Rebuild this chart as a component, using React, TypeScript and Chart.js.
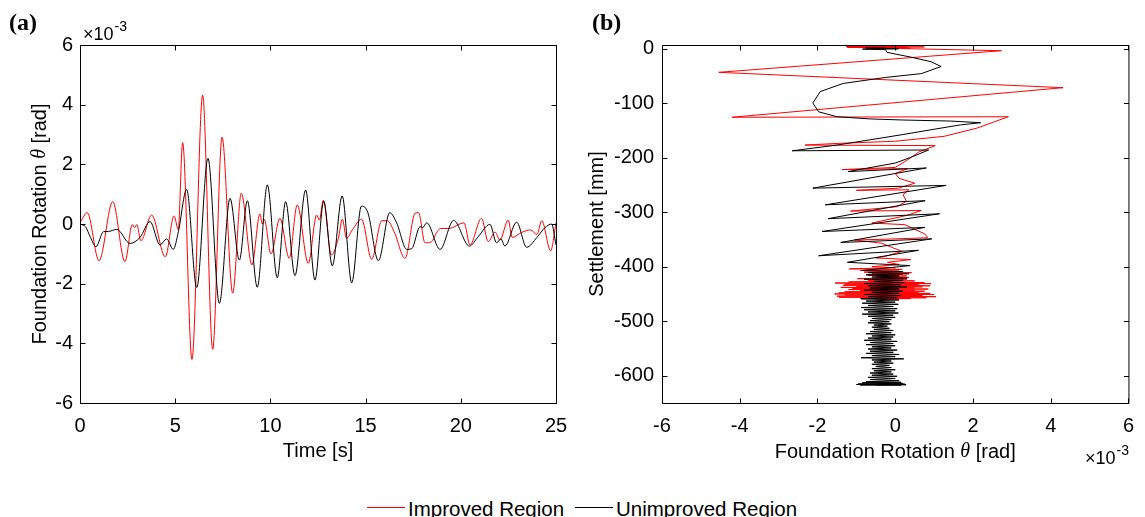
import React, { useEffect, useRef } from 'react';
import { Chart, registerables } from 'chart.js';

Chart.register(...registerables);

const FONT = "'Liberation Sans', Arial, Helvetica, sans-serif";
const SERIF = "'Liberation Serif', 'Times New Roman', serif";

// ---------- Panel (a): rotation time history (values in 1e-3 rad) ----------
const timeTicks = [0, 5, 10, 15, 20, 25];
const rotTicks = [-6, -4, -2, 0, 2, 4, 6];

const impTime = [0, 0.38, 1.0, 1.72, 2.36, 2.75, 2.87, 2.98, 3.2, 3.76, 4.48, 4.94, 5.16, 5.39, 5.88, 6.44, 6.97, 7.46, 8.02, 8.47, 9.03, 9.45, 9.58, 9.68, 10.03, 10.5, 10.99, 11.41, 11.99, 12.43, 12.57, 12.78, 13.2, 13.57, 13.78, 14.0, 14.3, 14.79, 15.32, 15.85, 16.14, 16.5, 17.07, 17.6, 17.78, 18.12, 18.45, 18.76, 18.94, 19.38, 20.17, 20.48, 21.09, 21.44, 21.8, 22.05, 22.49, 22.7, 23.2, 23.66, 24.0, 24.25, 24.72, 25.0];
const impRot = [0.05, 0.38, -1.23, 0.75, -1.26, -0.02, -0.12, -0.02, -0.56, 0.3, -1.1, 0.27, -0.18, 2.73, -4.54, 4.32, -4.2, 2.91, -2.32, 1.03, -1.37, 0.34, 0.0, 0.15, -1.0, 0.19, -1.15, 0.64, -1.32, 0.3, 0.13, 0.8, -1.04, -0.48, 0.16, -0.48, -0.2, 0.16, -1.18, 0.11, 0.11, -0.26, -1.15, 0.36, 0.38, -0.63, -0.6, -0.26, -0.15, -0.15, 0.04, -0.7, 0.19, -0.59, -0.27, -0.54, 0.13, -0.45, -0.28, -0.2, -0.35, 0.11, -0.9, 0.04];

const unimpTime = [0, 0.3, 0.55, 0.84, 1.23, 1.5, 1.93, 2.63, 3.15, 3.68, 4.2, 4.55, 4.9, 5.17, 5.6, 6.13, 6.72, 7.32, 7.88, 8.37, 8.79, 9.31, 9.84, 10.36, 10.8, 11.29, 11.85, 12.34, 12.8, 13.25, 13.77, 14.27, 14.78, 15.12, 15.67, 16.27, 16.63, 17.16, 17.42, 17.86, 18.0, 18.21, 18.91, 19.62, 20.45, 20.92, 21.53, 21.88, 22.1, 22.32, 22.93, 23.46, 24.0, 24.33, 24.5, 24.77, 25.0];
const unimpRot = [0.0, -0.1, -0.45, -0.76, -0.26, -0.25, -0.18, -0.65, -0.45, 0.08, -0.7, -0.5, -0.85, -0.25, 1.16, -2.13, 2.2, -2.66, 0.86, -1.21, 0.78, -2.12, 1.31, -1.8, 0.75, -1.73, 1.14, -1.88, 0.76, -1.4, 0.94, -1.97, 0.6, 0.38, -1.23, 0.38, 0.04, -0.85, -0.83, -0.09, -0.12, 0.04, -0.85, 0.12, -0.74, -0.42, -0.01, -0.63, -0.5, -0.74, 0.06, -0.78, -0.45, -0.18, -0.08, 0.0, -0.7];

// ---------- Panel (b): settlement vs rotation ----------
const rotTicksB = [-6, -4, -2, 0, 2, 4, 6];
const settleTicks = [-600, -500, -400, -300, -200, -100, 0];

const impPathRot = [0, 0.38, -1.23, 0.75, -1.26, -0.02, -0.56, 0.3, -1.1, 0.27, -0.18, 2.73, -4.54, 4.32, -4.2, 2.91, 2.1, 1.26, 0, -1.5, -2.32, 1.03, 0.6, 0.3, 0.0, -1.37, 0.33, 0.0, 0.1, 0.5, 0.08, -1.0, 0.35, 0.2, 0.29, 0.05, -1.15, 0.67, 0.3, -0.34, -0.6, 0.25, 0.76, 0.84, -0.42, -1.05, -0.35, 0.17, -0.25, -0.5,
  0.4, -0.2, 0.1, -0.6, 0.0, -1.18, 0.18, -0.9, 0.1, -0.8, 0.42, -0.6, 0.2, -0.7, 0.3, -0.5, 0.35, -0.97, 0.3, -0.7, 0.5, -1.2, 0.75, -1.55, 0.92, -1.3, 0.6, -1.34, 0.9, -1.0, 0.7, -1.4, 0.5, -1.1, 0.85, -1.2, 0.5, -0.9, 0.76, -1.3, 0.6, -1.45, 0.9, -1.56, 1.0, -1.3, 0.7, -1.5, 1.05, -1.45, 0.8, -0.9, 0.4, -0.5];
const impPathSettle = [0, 1, 2, 3, 3.5, 3, 2.5, 3, 2, 1.5, 0.5, -4, -43.6, -71.8, -126, -125, -146, -161, -170, -174, -177, -178, -190, -205, -218, -222, -220, -229, -238, -247, -256, -260, -259, -268, -280, -290, -298, -297, -306, -316, -320, -323, -340, -347, -350, -351, -357, -372, -381, -384,
  -387, -392, -396, -400, -402, -404, -405, -407, -408, -410, -411, -413, -414, -416, -417, -419, -420, -422, -423, -425, -426, -428, -429, -430, -431, -432, -433, -434, -435, -436, -437, -438, -439, -440, -441, -442, -443, -444, -445, -446, -447, -448, -449, -450, -451, -452, -453, -454, -455, -456, -457, -458, -458.5, -459];

const unimpPathRot = [0, -0.3, -0.76, -0.26, -0.65, 0.08, -0.84, -0.25, -0.21, 0.42, 0.92, 1.18, 0.67, -0.25, -1.34, -1.93, -2.12, -1.97, -1.5, -0.67, 0.17, 1.43, 2.2, 1.68, 1.0, 0.17, -0.67, -1.5, -2.65, 0.86, 0.42, 0, -1.21, 0.8, -2.12, 1.31, -1.8, 0.77, -1.73, 1.14, -1.88, 0.76, -1.4, 0.94, -1.97, 0.6, -1.23, 0.38,
  -0.85, 0.2, -0.7, 0.35, -0.75, 0.1, -0.6, 0.3, -0.8, 0.2, -0.55, 0.25, -0.8, 0.15, -0.7, 0.3, -0.65, 0.1, -0.8, 0.2, -0.6, 0.1, -0.8, 0.15, -0.7, 0.05,
  -0.88, 0.1, -0.75, 0.0, -0.85, 0.08, -0.7, -0.05, -0.88, 0.05, -0.8, 0.0, -0.7, 0.08, -0.85, -0.05, -0.7, 0.0, -0.6, -0.1, -0.65, -0.15, -0.7, -0.1, -0.55, -0.2, -0.6, -0.15, -0.55, -0.05, -0.65, -0.1, -0.75, 0.0, -0.6, -0.05, -0.7, -0.1, -0.8, 0.05, -0.65, -0.05, -0.75, 0.0, -0.6, -0.1, -0.7, 0.05, -0.65, -0.05, -0.75, 0.1, -0.6, 0.0,
  -0.88, 0.22, -0.6, -0.1, -0.55, -0.05, -0.6, -0.15, -0.5, -0.1, -0.6, 0.0, -0.55, -0.1, -0.65, -0.05, -0.6, 0.05, -0.7, 0.0, -0.65, 0.1, -0.75, 0.15, -0.85, 0.2, -0.95, 0.25, -1.0, 0.28, -0.9, 0.15, -0.5];
const unimpPathSettle = [0, 0.5, 1, 0.5, 0, -0.5, -1, -2, -7, -16, -24, -33, -46, -53, -64, -79, -100, -116, -125, -129, -131, -133, -136, -140, -148, -158, -167.6, -177, -187.5, -186, -199, -210, -225.6, -219, -256, -251, -286.6, -279, -312, -303, -335.5, -328, -355.6, -349, -380, -370, -392, -398,
  -407, -409, -411, -413, -415, -417, -419, -421, -423, -425, -427, -429, -431, -433, -435, -437, -439, -441, -443, -445, -447, -449, -451, -453, -455, -457,
  -459, -461, -463, -465, -467, -469, -471, -473, -475, -477, -479, -481, -483, -485, -487, -489, -491, -493, -495, -497, -499, -501, -503, -505, -507, -509, -511, -513, -515, -517, -519, -521, -523, -525, -527, -529, -531, -533, -535, -537, -539, -541, -543, -545, -547, -549, -551, -553, -555, -557, -559, -561, -563, -565,
  -567, -569, -571, -573, -575, -577, -579, -581, -583, -585, -587, -589, -591, -593, -595, -597, -599, -601, -603, -605, -607, -609, -611, -612, -613, -614, -615, -615.5, -616, -616.5, -617, -617, -617];

const toXY = (xs: number[], ys: number[]) => xs.map((x, i) => ({ x, y: ys[i] }));

type Part = { t: string; f: string };
const thetaTitle: Part[] = [
  { t: 'Foundation Rotation ', f: `20px ${FONT}` },
  { t: '\u03b8', f: `italic 20px ${SERIF}` },
  { t: ' [rad]', f: `20px ${FONT}` },
];

function drawRich(ctx: CanvasRenderingContext2D, parts: Part[], cx: number, cy: number, rot: number) {
  ctx.save();
  ctx.translate(cx, cy);
  ctx.rotate(rot);
  ctx.textBaseline = 'middle';
  ctx.textAlign = 'left';
  ctx.fillStyle = '#000';
  const widths = parts.map((p) => { ctx.font = p.f; return ctx.measureText(p.t).width; });
  let x = -widths.reduce((a, b) => a + b, 0) / 2;
  parts.forEach((p, i) => {
    ctx.font = p.f;
    ctx.fillText(p.t, x, 0);
    x += widths[i];
  });
  ctx.restore();
}

function drawMultiplier(ctx: CanvasRenderingContext2D, x: number, base: number) {
  ctx.font = `18px ${FONT}`;
  ctx.textBaseline = 'alphabetic';
  ctx.textAlign = 'left';
  ctx.fillStyle = '#000';
  ctx.fillText('\u00d710', x, base);
  const w = ctx.measureText('\u00d710').width;
  ctx.font = `14px ${FONT}`;
  ctx.fillText('-3', x + w + 1, base - 9);
}

function framePlugin(xt: number[], yt: number[], panel: string, panelX: number, multX: number, multBase: number, titleMode: 'y' | 'x') {
  return {
    id: 'frame' + panel,
    afterDraw(chart: any) {
      const { ctx, chartArea } = chart;
      const { left, right, top, bottom } = chartArea;
      const xs = chart.scales.x;
      const ys = chart.scales.y;
      ctx.save();
      ctx.strokeStyle = '#000';
      ctx.lineWidth = 1;
      ctx.beginPath();
      ctx.rect(left + 0.5, top + 0.5, right - left, bottom - top);
      const L = 5;
      xt.forEach((v) => {
        const p = Math.round(xs.getPixelForValue(v)) + 0.5;
        ctx.moveTo(p, bottom + 0.5);
        ctx.lineTo(p, bottom + 0.5 - L);
        ctx.moveTo(p, top + 0.5);
        ctx.lineTo(p, top + 0.5 + L);
      });
      yt.forEach((v) => {
        const p = Math.round(ys.getPixelForValue(v)) + 0.5;
        ctx.moveTo(left + 0.5, p);
        ctx.lineTo(left + 0.5 + L, p);
        ctx.moveTo(right + 0.5, p);
        ctx.lineTo(right + 0.5 - L, p);
      });
      ctx.stroke();
      ctx.fillStyle = '#000';
      ctx.font = `bold 24px ${SERIF}`;
      ctx.textAlign = 'left';
      ctx.textBaseline = 'alphabetic';
      ctx.fillText(panel, panelX, 30);
      drawMultiplier(ctx, multX, multBase);
      if (titleMode === 'y') {
        drawRich(ctx, thetaTitle, 40, (top + bottom) / 2, -Math.PI / 2);
      } else {
        drawRich(ctx, thetaTitle, (left + right) / 2, 452, 0);
      }
      ctx.restore();
    },
  };
}

const tickFont = { family: FONT, size: 20 };
const titleFont = { family: FONT, size: 20 };

function makeConfigA(): any {
  return {
    type: 'line',
    data: {
      datasets: [
        {
          label: 'Unimproved Region',
          data: toXY(unimpTime, unimpRot),
          borderColor: '#000000',
          borderWidth: 1,
          pointRadius: 0,
          cubicInterpolationMode: 'monotone',
          order: 0,
        },
        {
          label: 'Improved Region',
          data: toXY(impTime, impRot),
          borderColor: '#ff0000',
          borderWidth: 1,
          pointRadius: 0,
          cubicInterpolationMode: 'monotone',
          order: 1,
        },
      ],
    },
    options: {
      responsive: false,
      animation: false,
      devicePixelRatio: 1,
      layout: { padding: { left: 0, top: 45, right: 24, bottom: 0 } },
      plugins: { legend: { display: false }, tooltip: { enabled: false } },
      scales: {
        x: {
          type: 'linear',
          min: 0,
          max: 25,
          grid: { display: false, drawTicks: false },
          border: { display: false },
          afterBuildTicks: (s: any) => { s.ticks = timeTicks.map((v) => ({ value: v })); },
          afterFit: (s: any) => { s.height = 72; },
          ticks: { font: tickFont, color: '#000', padding: 11, maxRotation: 0, autoSkip: false },
          title: { display: true, text: 'Time [s]', font: titleFont, color: '#000', padding: { top: 0, bottom: 12 } },
        },
        y: {
          type: 'linear',
          min: -6,
          max: 6,
          grid: { display: false, drawTicks: false },
          border: { display: false },
          afterBuildTicks: (s: any) => { s.ticks = rotTicks.map((v) => ({ value: v })); },
          afterFit: (s: any) => { s.width = 80; },
          ticks: { font: tickFont, color: '#000', padding: 7, autoSkip: false },
          title: { display: false },
        },
      },
    },
    plugins: [framePlugin(timeTicks, rotTicks, '(a)', 9, 83, 40, 'y')],
  };
}

function makeConfigB(): any {
  return {
    type: 'scatter',
    data: {
      datasets: [
        {
          label: 'Unimproved Region',
          data: toXY(unimpPathRot, unimpPathSettle),
          showLine: true,
          borderColor: '#000000',
          borderWidth: 1,
          pointRadius: 0,
          tension: 0,
          borderJoinStyle: 'round',
          order: 0,
        },
        {
          label: 'Improved Region',
          data: toXY(impPathRot, impPathSettle),
          showLine: true,
          borderColor: '#ff0000',
          borderWidth: 1,
          pointRadius: 0,
          tension: 0,
          borderJoinStyle: 'round',
          order: 1,
        },
      ],
    },
    options: {
      responsive: false,
      animation: false,
      devicePixelRatio: 1,
      layout: { padding: { left: 0, top: 45, right: 7, bottom: 0 } },
      plugins: { legend: { display: false }, tooltip: { enabled: false } },
      scales: {
        x: {
          type: 'linear',
          min: -6,
          max: 6,
          grid: { display: false, drawTicks: false },
          border: { display: false },
          afterBuildTicks: (s: any) => { s.ticks = rotTicksB.map((v) => ({ value: v })); },
          afterFit: (s: any) => { s.height = 72; },
          ticks: { font: tickFont, color: '#000', padding: 11, maxRotation: 0, autoSkip: false },
          title: { display: false },
        },
        y: {
          type: 'linear',
          min: -650,
          max: 6.5,
          grid: { display: false, drawTicks: false },
          border: { display: false },
          afterBuildTicks: (s: any) => { s.ticks = settleTicks.map((v) => ({ value: v })); },
          afterFit: (s: any) => { s.width = 82; },
          ticks: { font: tickFont, color: '#000', padding: 8, autoSkip: false },
          title: { display: true, text: 'Settlement [mm]', font: titleFont, color: '#000', padding: { top: 5, bottom: 0 } },
        },
      },
    },
    plugins: [framePlugin(rotTicksB, settleTicks, '(b)', 12, 505, 464, 'x')],
  };
}

const legendText: React.CSSProperties = {
  position: 'absolute',
  fontFamily: FONT,
  fontSize: '20.5px',
  lineHeight: '24px',
  color: '#000',
  whiteSpace: 'nowrap',
  top: 497,
};

export default function App() {
  const refA = useRef<HTMLCanvasElement>(null);
  const refB = useRef<HTMLCanvasElement>(null);

  useEffect(() => {
    const a = new Chart(refA.current as HTMLCanvasElement, makeConfigA());
    const b = new Chart(refB.current as HTMLCanvasElement, makeConfigB());
    return () => {
      a.destroy();
      b.destroy();
    };
  }, []);

  return (
    <div style={{ position: 'absolute', left: 0, top: 0, width: 1145, height: 517, overflow: 'hidden', background: '#fff' }}>
      <canvas ref={refA} width={580} height={475} style={{ position: 'absolute', left: 0, top: 0, width: 580, height: 475 }} />
      <canvas ref={refB} width={565} height={475} style={{ position: 'absolute', left: 580, top: 0, width: 565, height: 475 }} />
      <div style={{ position: 'absolute', left: 367, top: 507, width: 38, height: 1, background: '#ff0000' }} />
      <div style={{ ...legendText, left: 408 }}>Improved Region</div>
      <div style={{ position: 'absolute', left: 575, top: 507, width: 38, height: 1, background: '#000000' }} />
      <div style={{ ...legendText, left: 616 }}>Unimproved Region</div>
    </div>
  );
}
